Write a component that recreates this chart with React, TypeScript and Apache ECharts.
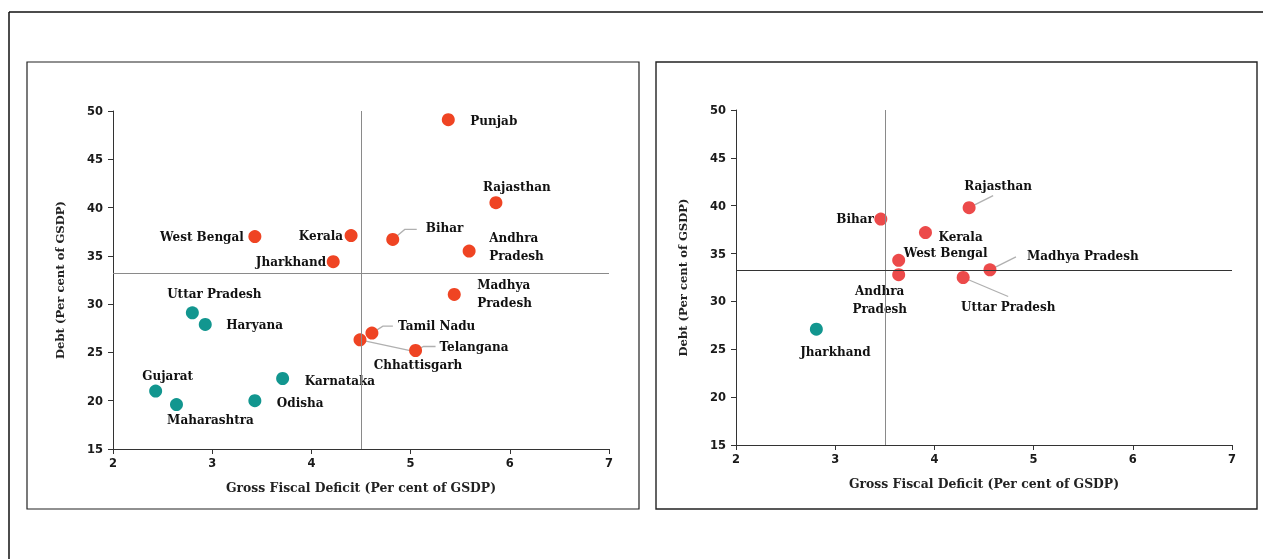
import React, { useEffect, useRef } from "react";
import * as echarts from "echarts";

// ---------- Data ----------
// Panel 1
const states1 = [
  "Punjab", "Rajasthan", "West Bengal", "Kerala", "Bihar", "Andhra\nPradesh",
  "Jharkhand", "Madhya\nPradesh", "Tamil Nadu", "Chhattisgarh", "Telangana",
  "Uttar Pradesh", "Haryana", "Karnataka", "Gujarat", "Maharashtra", "Odisha",
];
const gfd1 = [5.38, 5.86, 3.43, 4.4, 4.82, 5.59, 4.22, 5.44, 4.61, 4.49, 5.05, 2.8, 2.93, 3.71, 2.43, 2.64, 3.43];
const debt1 = [49.1, 40.5, 37.0, 37.1, 36.7, 35.5, 34.4, 31.0, 27.0, 26.3, 25.2, 29.1, 27.9, 22.3, 21.0, 19.6, 20.0];
const group1 = ["h", "h", "h", "h", "h", "h", "h", "h", "h", "h", "h", "l", "l", "l", "l", "l", "l"];
const refX1 = 4.5;
const refY1 = 33.2;

// Panel 2
const states2 = [
  "Rajasthan", "Bihar", "Kerala", "West Bengal", "Andhra\nPradesh",
  "Madhya Pradesh", "Uttar Pradesh", "Jharkhand",
];
const gfd2 = [4.35, 3.46, 3.91, 3.64, 3.64, 4.56, 4.29, 2.81];
const debt2 = [39.8, 38.6, 37.2, 34.3, 32.8, 33.3, 32.5, 27.1];
const group2 = ["h", "h", "h", "h", "h", "h", "h", "l"];
const refX2 = 3.5;
const refY2 = 33.3;

const xTicks = { min: 2, max: 7, interval: 1 };
const yTicks = { min: 15, max: 50, interval: 5 };

// ---------- Label placement (relative to marker centre, px) ----------
type LP = { dx: number; dy: number; align: string; line?: number[][] };
const labels1: LP[] = [
  { dx: 22, dy: 1, align: "left" },
  { dx: 21, dy: -16, align: "center" },
  { dx: -11, dy: 0, align: "right" },
  { dx: -8, dy: 0, align: "right" },
  { dx: 33, dy: -11, align: "left", line: [[0, 0], [12, -10], [24, -10]] },
  { dx: 20, dy: -4, align: "left" },
  { dx: -7, dy: 0, align: "right" },
  { dx: 23, dy: 0, align: "left" },
  { dx: 26, dy: -7, align: "left", line: [[0, 0], [11, -7], [21, -7]] },
  { dx: 58, dy: 25, align: "center", line: [[0, 0], [56, 12]] },
  { dx: 24, dy: -3, align: "left", line: [[0, 0], [8, -4], [20, -4]] },
  { dx: 22, dy: -19, align: "center" },
  { dx: 21, dy: 1, align: "left" },
  { dx: 22, dy: 2, align: "left" },
  { dx: 12, dy: -15, align: "center" },
  { dx: 34, dy: 15, align: "center" },
  { dx: 22, dy: 2, align: "left" },
];
const labels2: LP[] = [
  { dx: 29, dy: -22, align: "center", line: [[0, 0], [24, -12]] },
  { dx: -7, dy: 0, align: "right" },
  { dx: 13, dy: 4, align: "left" },
  { dx: 5, dy: -7, align: "left" },
  { dx: -19, dy: 25, align: "center" },
  { dx: 37, dy: -14, align: "left", line: [[0, 0], [26, -13]] },
  { dx: 45, dy: 29, align: "center", line: [[0, 0], [45, 19]] },
  { dx: 19, dy: 23, align: "center" },
];

const RED1 = "#ef4423";
const RED2 = "#ec4a4a";
const TEAL = "#12968f";
const FONT = "DejaVu Serif";

export default function App() {
  const ref = useRef<HTMLDivElement>(null);
  useEffect(() => {
    if (!ref.current) return;
    const chart = echarts.init(ref.current, undefined, { renderer: "svg" });

    const mkData = (states: string[], xs: number[], ys: number[], groups: string[], red: string) =>
      states.map((s, i) => ({
        name: s,
        value: [xs[i], ys[i]],
        itemStyle: { color: groups[i] === "h" ? red : TEAL, opacity: 1 },
      }));

    const axisCommon = {
      axisLine: { show: true, lineStyle: { color: "#333", width: 1 } },
      axisTick: { show: true, length: 5, lineStyle: { color: "#333" } },
      splitLine: { show: false },
      nameLocation: "middle" as const,
    };
    const tickFont = { fontFamily: "DejaVu Sans", fontSize: 11.5, fontWeight: "bold", color: "#1a1a1a" };
    const xAxis = (gi: number) => ({
      type: "value",
      gridIndex: gi,
      ...xTicks,
      ...axisCommon,
      name: "Gross Fiscal Deficit (Per cent of GSDP)",
      nameGap: 32,
      nameTextStyle: { fontFamily: FONT, fontSize: 12.4, fontWeight: "bold", color: "#222" },
      axisLabel: { ...tickFont, margin: 8 },
    });
    const yAxis = (gi: number) => ({
      type: "value",
      gridIndex: gi,
      ...yTicks,
      ...axisCommon,
      name: "Debt (Per cent of GSDP)",
      nameGap: 47,
      nameRotate: 90,
      nameTextStyle: { fontFamily: FONT, fontSize: 11.6, fontWeight: "bold", color: "#222" },
      axisLabel: { ...tickFont, margin: 10 },
    });

    const labelStyle = {
      show: true,
      formatter: "{b}",
      fontFamily: FONT,
      fontSize: 12,
      fontWeight: "bold",
      color: "#111",
      lineHeight: 18,
    };

    const mkLayout = (lps: LP[]) => (params: any) => {
      const lp = lps[params.dataIndex];
      const r = params.rect;
      return {
        x: r.x + r.width / 2 + lp.dx,
        y: r.y + r.height / 2 + lp.dy,
        align: lp.align,
        verticalAlign: "middle",
      };
    };

    const leaderData = (xs: number[], ys: number[], lps: LP[]) =>
      xs.map((x, i) => [x, ys[i], i]).filter((d) => !!lps[d[2]].line);

    const leaderSeries = (gi: number, xs: number[], ys: number[], lps: LP[]) => ({
      type: "custom",
      xAxisIndex: gi,
      yAxisIndex: gi,
      silent: true,
      z: 1,
      data: leaderData(xs, ys, lps),
      renderItem: (_p: any, api: any) => {
        const i = api.value(2);
        const c = api.coord([api.value(0), api.value(1)]);
        const pts = (lps[i].line || []).map((p) => [c[0] + p[0], c[1] + p[1]]);
        return {
          type: "polyline",
          shape: { points: pts },
          style: { stroke: "#b0b0b0", lineWidth: 1.3, fill: "none" },
        };
      },
    });

    const markLines = (rx: number, ry: number, hColor: string) => ({
      silent: true,
      symbol: "none",
      label: { show: false },
      animation: false,
      data: [
        { xAxis: rx, lineStyle: { color: "#8a8a8a", width: 1, type: "solid" } },
        { yAxis: ry, lineStyle: { color: hColor, width: 1, type: "solid" } },
      ],
    });

    chart.setOption({
      animation: false,
      graphic: [
        { type: "line", shape: { x1: 9, y1: 12, x2: 1263, y2: 12 }, style: { stroke: "#111", lineWidth: 1.5 } },
        { type: "line", shape: { x1: 9, y1: 12, x2: 9, y2: 559 }, style: { stroke: "#111", lineWidth: 1.5 } },
        { type: "rect", shape: { x: 27, y: 62, width: 612, height: 447 }, style: { fill: "none", stroke: "#222", lineWidth: 1.2 } },
        { type: "rect", shape: { x: 656, y: 62, width: 601, height: 447 }, style: { fill: "none", stroke: "#222", lineWidth: 1.4 } },
      ],
      grid: [
        { left: 113, top: 111, width: 496, height: 338 },
        { left: 736, top: 110, width: 496, height: 335 },
      ],
      xAxis: [xAxis(0), xAxis(1)],
      yAxis: [yAxis(0), yAxis(1)],
      series: [
        leaderSeries(0, gfd1, debt1, labels1),
        leaderSeries(1, gfd2, debt2, labels2),
        {
          type: "scatter",
          xAxisIndex: 0,
          yAxisIndex: 0,
          symbolSize: 13,
          z: 3,
          data: mkData(states1, gfd1, debt1, group1, RED1),
          label: labelStyle,
          labelLayout: mkLayout(labels1),
          markLine: markLines(refX1, refY1, "#8a8a8a"),
        },
        {
          type: "scatter",
          xAxisIndex: 1,
          yAxisIndex: 1,
          symbolSize: 13,
          z: 3,
          data: mkData(states2, gfd2, debt2, group2, RED2),
          label: labelStyle,
          labelLayout: mkLayout(labels2),
          markLine: markLines(refX2, refY2, "#333"),
        },
      ],
    });
    return () => chart.dispose();
  }, []);
  return (
    <div
      ref={ref}
      style={{ position: "fixed", left: 0, top: 0, width: 1263, height: 559 }}
    />
  );
}
